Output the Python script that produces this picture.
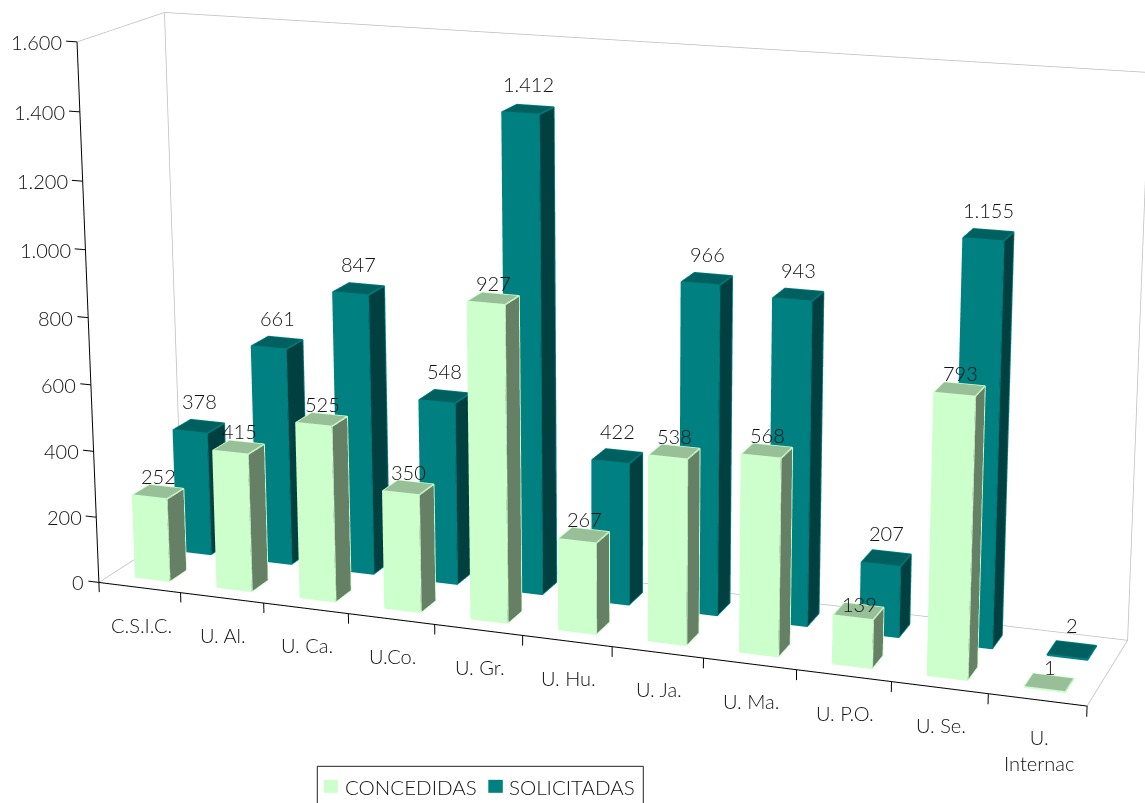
import numpy as np, plotly.graph_objects as go

categories = ["C.S.I.C.", "U. Al.", "U. Ca.", "U.Co.", "U. Gr.", "U. Hu.", "U. Ja.", "U. Ma.", "U. P.O.", "U. Se.", "U.<br>Internac"]
concedidas = [252, 415, 525, 350, 927, 267, 538, 568, 139, 793, 1]
solicitadas = [378, 661, 847, 548, 1412, 422, 966, 943, 207, 1155, 2]
z_ticks = [0, 200, 400, 600, 800, 1000, 1200, 1400, 1600]
z_labels = ["0", "200", "400", "600", "800", "1.000", "1.200", "1.400", "1.600"]

P=np.array([2.132,-5.824,1.662,-0.054,0.134,0.061,0.00117,0.00289,1.0,0.364,1.094])
FOCAL,CX,CY=3362.452,597.193,290.179

XMAX,YMAX,ZMAX=11,1,1600
x_lo,x_hi=-0.2,11.05; y_lo,y_hi=-0.02,1.1; z_lo,z_hi=-40,1610
base=np.array([2,P[9],P[10]])
rng_old=np.array([XMAX,YMAX,ZMAX],float)
lo=np.array([x_lo,y_lo,z_lo]);hi=np.array([x_hi,y_hi,z_hi])
asp=base*(hi-lo)/rng_old
shift=((lo+hi)/2/rng_old-.5)*base
eye=P[:3]-shift;cen=P[3:6]-shift

LX=(0.295,0.715); DX=(0.31,0.73); LY=(0.15,0.35); DY=(0.64,0.855)
def bars(vals,xr,yr,front,top,side):
    X,Y,Z,I,J,K,FC=[],[],[],[],[],[],[]
    ex,ey,ez=[],[],[]
    for i,v in enumerate(vals):
        x0,x1=i+xr[0],i+xr[1];y0,y1=yr;n=len(X)
        for a,b,c in [(x0,y0,0),(x1,y0,0),(x1,y1,0),(x0,y1,0),(x0,y0,v),(x1,y0,v),(x1,y1,v),(x0,y1,v)]:
            X.append(a);Y.append(b);Z.append(c)
        for q,col in [((0,1,5,4),front),((1,2,6,5),side),((4,5,6,7),top)]:
            I+= [n+q[0],n+q[0]];J+=[n+q[1],n+q[2]];K+=[n+q[2],n+q[3]];FC+=[col,col]
        for path in [(0,1,2,6,7,4,0),(1,5,4),(5,6)]:
            for k in path:
                ex.append(X[n+k]);ey.append(Y[n+k]);ez.append(Z[n+k])
            ex.append(None);ey.append(None);ez.append(None)
    mesh=go.Mesh3d(x=X,y=Y,z=Z,i=I,j=J,k=K,facecolor=FC,flatshading=True,hoverinfo='skip',
        lighting=dict(ambient=1,diffuse=0,specular=0,roughness=1,fresnel=0))
    edge=go.Scatter3d(x=ex,y=ey,z=ez,mode='lines',line=dict(color=front,width=3),hoverinfo='skip')
    return mesh,edge

fig=go.Figure()
def line(xs,ys,zs,color,width=1.5):
    fig.add_trace(go.Scatter3d(x=xs,y=ys,z=zs,mode='lines',line=dict(color=color,width=width),hoverinfo='skip'))
GR='#BDBDBD'
line([0,0,11,11,0,0],[0,1,1,1,1,1],[0,0,0,1600,1600,0],GR)
line([0,0],[0,1],[1600,1600],GR)
line([11,11],[0,1],[0,0],GR)
line([0,11],[0,0],[0,0],'black',2)
line([0,0],[0,0],[0,1600],'black',2)
for t in z_ticks:
    line([-0.13,0],[0,0],[t,t],'black',2)
for i in range(12):
    line([i,i],[0,0],[0,-30],'black',2)
for tr in bars(solicitadas,DX,DY,'#008080','#006060','#004040'):fig.add_trace(tr)
for tr in bars(concedidas,LX,LY,'#CCFFCC','#99BF99','#668066'):fig.add_trace(tr)

TC='#111111';FS=20;FONT='Lato';WT=300
fnt=lambda s:dict(family=FONT,size=s,color=TC,weight=WT)
ann=[]
for t,l in zip(z_ticks,z_labels):
    ann.append(dict(x=-0.13,y=0,z=t,text=l,xanchor='right',yanchor='middle',xshift=-2,yshift=-1,showarrow=False,font=fnt(FS)))
for i,c in enumerate(categories):
    ann.append(dict(x=i+.5,y=0,z=0,text=c,xanchor='center',yanchor='top',yshift=-23,xshift=1.5,showarrow=False,font=fnt(FS)))
for vals,yr,xs,ys in [(concedidas,LY,1,2),(solicitadas,DY,2,11)]:
    for i,v in enumerate(vals):
        dy=-9 if v==139 else 0
        ann.append(dict(x=i+.5,y=sum(yr)/2,z=v,text=f"{v:,}".replace(",","."),xanchor='center',yanchor='bottom',xshift=xs,yshift=ys+dy,showarrow=False,font=fnt(FS)))

W=1300;H=int(round(2*FOCAL*np.tan(np.pi/8)))
LEFT=CX-W/2;TOP=CY-H/2
px=lambda v:(v-LEFT)/W
py=lambda v:1-(v-TOP)/H
shapes=[dict(type='rect',xref='paper',yref='paper',x0=px(317.5),x1=px(643.5),y0=py(766.5),y1=py(815),line=dict(color='#222',width=1),fillcolor='white'),
 dict(type='rect',xref='paper',yref='paper',x0=px(324),x1=px(338),y0=py(780),y1=py(793),line=dict(width=0),fillcolor='#CCFFCC'),
 dict(type='rect',xref='paper',yref='paper',x0=px(488.5),x1=px(503),y0=py(780),y1=py(793),line=dict(width=0),fillcolor='#008080')]
pann=[dict(xref='paper',yref='paper',x=px(343),y=py(787.5),text='CONCEDIDAS',xanchor='left',yanchor='middle',showarrow=False,font=fnt(20.5)),
 dict(xref='paper',yref='paper',x=px(507),y=py(787.5),text='SOLICITADAS',xanchor='left',yanchor='middle',showarrow=False,font=fnt(20.5))]
fig.update_layout(width=W,height=H,margin=dict(l=0,r=0,t=0,b=0),showlegend=False,paper_bgcolor='white',hovermode=False,
 shapes=shapes,annotations=pann,
 scene=dict(domain=dict(x=[0,1],y=[0,1]),
 xaxis=dict(visible=False,range=[x_lo,x_hi]),yaxis=dict(visible=False,range=[y_lo,y_hi]),zaxis=dict(visible=False,range=[z_lo,z_hi]),
 aspectmode='manual',aspectratio=dict(x=asp[0],y=asp[1],z=asp[2]),annotations=ann,dragmode=False,
 camera=dict(eye=dict(x=eye[0],y=eye[1],z=eye[2]),center=dict(x=cen[0],y=cen[1],z=cen[2]),up=dict(x=P[6],y=P[7],z=P[8]))))
post=f"""var gd=document.getElementById('{{plot_id}}');gd.style.position='absolute';gd.style.left='{LEFT}px';gd.style.top='{TOP}px';
document.documentElement.style.overflow='hidden';document.body.style.overflow='hidden';document.body.style.margin='0';"""
fig.write_html("out.html",config=dict(displayModeBar=False),post_script=post)
